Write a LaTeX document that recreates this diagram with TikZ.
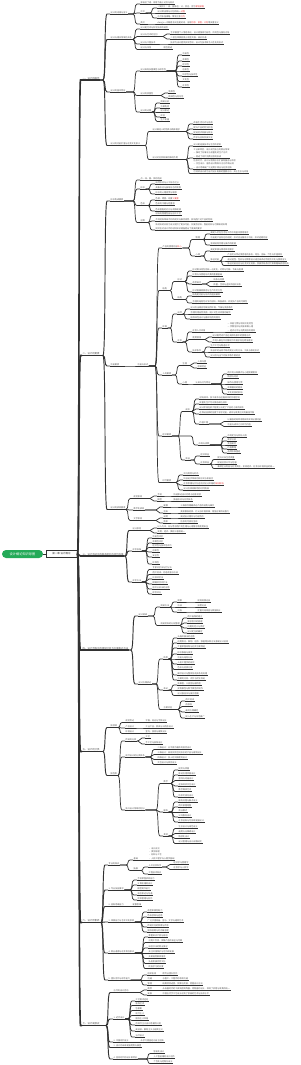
\documentclass[tikz,border=0pt]{standalone}
\usepackage{fontspec}
\setmainfont{Noto Sans CJK SC}
\usepackage{tikz}
\usetikzlibrary{positioning}
\definecolor{mapGreen}{RGB}{36,170,88}
\definecolor{mapLine}{RGB}{50,50,50}
\definecolor{mapText}{RGB}{80,80,80}
\definecolor{mapRed}{RGB}{232,52,52}

\begin{document}
\begin{tikzpicture}[
    x=1pt, y=-1pt,
    rootnode/.style={fill=mapGreen, rounded corners=4pt, text=white,
      font=\fontsize{3.2}{4}\selectfont, minimum width=41pt, minimum height=8pt, inner sep=0.5pt},
    chapter/.style={draw=mapLine, fill=white, line width=0.6pt, text=black!80,
      font=\fontsize{2.5}{3}\selectfont, minimum width=31pt, minimum height=6.5pt, inner sep=0.5pt},
    topic/.style={anchor=south west, inner xsep=0.5pt, inner ysep=0.45pt, text=mapText, align=left,
      font=\fontsize{2.1}{3.3}\selectfont},
    t1/.style={topic, font=\fontsize{2.4}{3}\selectfont, text height=2pt, text depth=0.35pt,
      append after command={(\tikzlastnode.south west) edge[draw=mapLine, line width=1.2pt] (\tikzlastnode.south east)}},
    t2/.style={topic, text height=1.75pt, text depth=0.3pt,
      append after command={(\tikzlastnode.south west) edge[draw=mapLine, line width=0.95pt] (\tikzlastnode.south east)}},
    t3/.style={topic, text height=1.75pt, text depth=0.3pt,
      append after command={(\tikzlastnode.south west) edge[draw=mapLine, line width=0.7pt] (\tikzlastnode.south east)}},
    tm/.style={topic,
      append after command={(\tikzlastnode.south west) edge[draw=mapLine, line width=0.7pt] (\tikzlastnode.south east)}},
    branchpath/.style={to path={-- ([xshift=-7pt]\tikztotarget |- \tikztostart)
      .. controls ([xshift=-4pt]\tikztotarget |- \tikztostart) and ([xshift=-6pt]\tikztotarget)
      .. ([xshift=-3pt]\tikztotarget) -- (\tikztotarget)}},
    trunkpath/.style={to path={-- ([xshift=-4.5pt]\tikztotarget |- \tikztostart)
      .. controls ([xshift=-2.5pt]\tikztotarget |- \tikztostart) and ([xshift=-3.5pt]\tikztotarget)
      .. ([xshift=-1.5pt]\tikztotarget) -- (\tikztotarget)}},
    k1/.style={draw=mapLine, line width=1.6pt, trunkpath},
    k2/.style={draw=mapLine, line width=0.95pt, branchpath},
    k3/.style={draw=mapLine, line width=0.7pt, branchpath}
  ]
  \useasboundingbox (0,0) rectangle (300,1065);

  % centre
  \node[rootnode] (root) at (22.5,554) {设计概论知识导图};
  \node[chapter] (chap) at (61.5,554) {第一章 设计概论};
  \draw[mapLine, line width=0.9pt] (root) -- (chap);

  % main branches
  \node[t1] (la) at (82,80) {一、设计的概念};
  \node[t1] (lb) at (82,355.5) {二、设计的要素};
  \node[t1] (lc) at (82,556) {三、设计活动中的基本原则与评价标准};
  \node[t1] (ld) at (82,650) {四、设计流程中的调研分析与方案表达方法};
  \node[t1] (le) at (82,751.5) {五、设计的分类};
  \node[t1] (lf) at (82,922.5) {六、设计师素养};
  \node[t1] (lg) at (82,1025.5) {七、设计发展史};
  \foreach \kid in {la,lb,lc,ld,le,lf,lg}
    \draw[k1] (chap.east) to (\kid.south west);

  % 一
  \node[t2] (aa) at (110,14) {设计的词源与含义};
  \node[t2] (ab) at (110,39.5) {设计与相关领域的关系};
  \node[t2] (ac) at (110,92) {设计的基本特征};
  \node[t2] (ad) at (110,145.5) {设计的功能价值与社会文化意义};
  \foreach \kid in {aa,ab,ac,ad} \draw[k2] (la.south east) to (\kid.south west);

  \node[t3] (aa1) at (140,4) {源自拉丁语，原意为画上记号与标识};
  \node[t3] (aa2) at (140,13) {中文};
  \node[t3] (aa3) at (140,24) {英文};
  \foreach \kid in {aa1,aa2,aa3} \draw[k3] (aa.south east) to (\kid.south west);
  \foreach \y/\txt [count=\i] in {8/{《说文》：设，施陈也；计，会也，合为\textcolor{mapRed}{筹划谋略}},
      13/{设计即设想与计划的统一\textcolor{mapRed}{过程}},
      18/{古代多指谋略、策划之意\textcolor{mapRed}{行为}}} {
    \node[t3] (aa2-\i) at (157,\y) {\txt};
    \draw[k3] (aa2.south east) to (aa2-\i.south west);
  }
  \node[t3] (aa3-1) at (157,24) {design一词既是名词也是动词，含有\textcolor{mapRed}{构思、意图、计划}等多重含义};
  \draw[k3] (aa3.south east) to (aa3-1.south west);

  \node[t3] (ab1) at (140,29) {设计是艺术与科学技术的结合};
  \node[t3] (ab2) at (140,36.5) {设计与艺术的区别};
  \node[t3] (ab3) at (140,44) {设计与工程技术};
  \node[t3] (ab4) at (140,49.5) {设计与市场};
  \foreach \kid in {ab1,ab2,ab3,ab4} \draw[k3] (ab.south east) to (\kid.south west);
  \node[t3] (ab2-1) at (170,34) {艺术偏重个人情感表达，设计更强调功能性、目的性与服务对象};
  \node[t3] (ab2-2) at (170,39) {二者在审美层面上相互交融、彼此共通};
  \node[t3] (ab3-1) at (170,44) {技术为设计提供实现手段，设计为技术赋予人性化的形式};
  \node[t3] (ab4-1) at (163,49.5) {相互促进};
  \foreach \kid in {ab2-1,ab2-2} \draw[k3] (ab2.south east) to (\kid.south west);
  \draw[k3] (ab3.south east) to (ab3-1.south west);
  \draw[k3] (ab4.south east) to (ab4-1.south west);

  \node[t3] (ac1) at (140,71) {设计具有多重属性与综合性};
  \node[t3] (ac2) at (140,95.5) {设计的双重性};
  \node[t3] (ac3) at (140,112) {设计的过程};
  \foreach \kid in {ac1,ac2,ac3} \draw[k3] (ac.south east) to (\kid.south west);
  \foreach \y/\txt [count=\i] in {55/功能性,61/审美性,66/经济性,71/创新性,76/科学性与技术性,81.5/文化性,87/社会性} {
    \node[t3] (ac1-\i) at (182,\y) {\txt};
    \draw[k3] (ac1.south east) to (ac1-\i.south west);
  }
  \foreach \y/\txt [count=\i] in {93/物质性,98/精神性与符号性} {
    \node[t3] (ac2-\i) at (168,\y) {\txt};
    \draw[k3] (ac2.south east) to (ac2-\i.south west);
  }
  \foreach \y/\txt [count=\i] in {103/调研分析,108/方案构思,112.5/设计表达,117/评估,121.5/生产实施} {
    \node[t3] (ac3-\i) at (160,\y) {\txt};
    \draw[k3] (ac3.south east) to (ac3-\i.south west);
  }

  \node[t3] (ad1) at (152,131.5) {设计满足人的物质与精神需求};
  \node[t3] (ad2) at (152,159.5) {设计对社会发展的推动作用};
  \foreach \kid in {ad1,ad2} \draw[k3] (ad.south east) to (\kid.south west);
  \foreach \y/\txt [count=\i] in {124/改善生活方式与品质,129/提升产品的附加价值,134/促进经济发展与就业,139/传承与创新民族文化} {
    \node[t3] (ad1-\i) at (193,\y) {\txt};
    \draw[k3] (ad1.south east) to (ad1-\i.south west);
  }
  \node[t3] (ad2-1) at (193,146) {设计是连接技术与生活的桥梁};
  \node[tm] (ad2-2) at (193,158) {工业革命后，设计成为独立的职业领域\\— 推动了标准化与批量化的生产方式\\— 促进了现代消费社会的形成};
  \node[tm] (ad2-3) at (193,169) {信息时代，设计从物质形态扩展到服务与体验\\— 交互设计、服务设计等新兴方向不断出现\\— 设计思维被广泛运用于商业与社会创新};
  \node[t3] (ad2-4) at (193,173.5) {可持续设计成为当代设计发展的重要方向，关注生态与环境};
  \foreach \kid in {ad2-1,ad2-2,ad2-3,ad2-4} \draw[k3] (ad2.south east) to (\kid.south west);

  % 二
  \node[t2] (ba) at (110,201) {形态构成要素};
  \node[t2] (bb) at (110,366) {功能要素};
  \node[t2] (bc) at (110,509.5) {设计的表现要素};
  \foreach \kid in {ba,bb,bc} \draw[k2] (lb.south east) to (\kid.south west);

  \node[t3] (ba1) at (140,180) {点、线、面、体的构成};
  \node[t3] (ba2) at (140,189) {形态};
  \node[t3] (ba3) at (140,205.5) {色彩};
  \node[t3] (ba4) at (140,222.5) {材质};
  \foreach \kid in {ba1,ba2,ba3,ba4} \draw[k3] (ba.south east) to (\kid.south west);
  \foreach \y/\txt [count=\i] in {184/自然形态与人工形态之分,189/具象形态与抽象形态的转换,194/形态的心理感受与联想} {
    \node[t3] (ba2-\i) at (155,\y) {\txt};
    \draw[k3] (ba2.south east) to (ba2-\i.south west);
  }
  \foreach \y/\txt [count=\i] in {200/{色相、明度、纯度\textcolor{mapRed}{三要素}},205.5/色彩的冷暖与轻重感,211/色彩搭配的对比与调和规律} {
    \node[t3] (ba3-\i) at (155,\y) {\txt};
    \draw[k3] (ba3.south east) to (ba3-\i.south west);
  }
  \node[t3] (ba4-1) at (155,215.5) {材料的物理性能与加工工艺};
  \node[t3] (ba4-2) at (155,221) {不同材料带来不同的视觉与触觉感受，影响用户对产品的判断};
  \node[tm] (ba4-3) at (155,230) {新材料的开发为设计提供了更多可能，如复合材料、智能材料与可降解材料等\\同时也对设计师的材料知识储备提出了更高的要求};
  \foreach \kid in {ba4-1,ba4-2,ba4-3} \draw[k3] (ba4.south east) to (\kid.south west);

  \node[t3] (bb0) at (137,366) {功能与形式};
  \draw[k3] (bb.south east) to (bb0.south west);
  \node[t3] (b1) at (162,248) {产品的使用功能\textcolor{mapRed}{核心}};
  \node[t3] (b2) at (162,290.5) {结构};
  \node[t3] (b3) at (162,328) {环境};
  \node[t3] (b4) at (162,375) {人的要素};
  \node[t3] (b5) at (162,436) {经济要素};
  \node[t3] (b6) at (162,482.5) {时代要素};
  \foreach \kid in {b1,b2,b3,b4,b5,b6} \draw[k3] (bb0.south east) to (\kid.south west);

  \node[t3] (b1a) at (195,239.5) {物理};
  \node[t3] (b1b) at (195,256) {心理};
  \foreach \kid in {b1a,b1b} \draw[k3] (b1.south east) to (\kid.south west);
  \foreach \y/\txt [count=\i] in {234/满足人们在生活与工作中的基本使用需求,239.5/功能是产品存在的前提，形式应当服务于功能，形式追随功能,245/强调结构合理与操作的便捷} {
    \node[t3] (b1a-\i) at (210,\y) {\txt};
    \draw[k3] (b1a.south east) to (b1a-\i.south west);
  }
  \node[t3] (b1b-1) at (210,251) {满足审美与情感体验需求};
  \node[t3] (b1b-2) at (210,261) {象征功能};
  \foreach \kid in {b1b-1,b1b-2} \draw[k3] (b1b.south east) to (\kid.south west);
  \foreach \y/\txt [count=\i] in {256.5/产品可以传达使用者的身份、地位、品味、个性与价值观念,261/通过造型、色彩与材质等设计语言来表达特定的文化与情感含义,265.5/象征功能往往与社会文化背景、民族传统及时代审美趣味紧密相关} {
    \node[t3] (b1c-\i) at (227,\y) {\txt};
    \draw[k3] (b1b-2.south east) to (b1c-\i.south west);
  }

  \node[t3] (b2a) at (177,281.5) {形式};
  \node[t3] (b2b) at (177,299.5) {结构};
  \foreach \kid in {b2a,b2b} \draw[k3] (b2.south east) to (\kid.south west);
  \node[t3] (b2a-1) at (192,271) {形式美法则包括统一与变化、对称与均衡、节奏与韵律};
  \node[t3] (b2a-2) at (192,276) {比例与尺度是形式美的重要基础};
  \node[t3] (b2a-3) at (192,284) {造型语言};
  \node[t3] (b2a-4) at (192,292) {形式需兼顾美感与生产的可行性};
  \foreach \kid in {b2a-1,b2a-2,b2a-3,b2a-4} \draw[k3] (b2a.south east) to (\kid.south west);
  \node[t3] (b2c-1) at (213,281.5) {线条与轮廓};
  \node[t3] (b2c-2) at (213,286.5) {体量、空间与虚实的组织关系};
  \foreach \kid in {b2c-1,b2c-2} \draw[k3] (b2a-3.south east) to (\kid.south west);
  \node[t3] (b2b-1) at (192,296) {结构是功能与形式的连接载体};
  \node[t3] (b2b-2) at (192,303) {合理的结构可以节约材料、降低成本，并提升产品的可靠性};
  \foreach \kid in {b2b-1,b2b-2} \draw[k3] (b2b.south east) to (\kid.south west);

  \node[t3] (b3a) at (177,314) {自然};
  \node[t3] (b3b) at (177,342) {社会};
  \foreach \kid in {b3a,b3b} \draw[k3] (b3.south east) to (\kid.south west);
  \foreach \y/\txt [count=\i] in {309/设计应当顺应地域自然环境、气候与资源条件,314/合理利用自然资源，减少对生态环境的破坏,319/倡导绿色设计与循环利用的理念} {
    \node[t3] (b3a-\i) at (190,\y) {\txt};
    \draw[k3] (b3a.south east) to (b3a-\i.south west);
  }
  \node[t3] (b3b1) at (192,332) {社会人文环境};
  \node[t3] (b3b2) at (192,339.5) {使用情境};
  \node[t3] (b3b3) at (192,352) {技术条件};
  \foreach \kid in {b3b1,b3b2,b3b3} \draw[k3] (b3b.south east) to (\kid.south west);
  \node[tm] (b3b1-1) at (227,332) {— 风俗习惯与地域文化特色\\— 宗教信仰与民族审美心理\\— 经济水平与消费观念的差异};
  \draw[k3] (b3b1.south east) to (b3b1-1.south west);
  \foreach \y/\txt [count=\i] in {337/设计需考虑产品在具体场景中的使用方式,342/不同人群在不同情境下的需求存在明显差异} {
    \node[t3] (b3b2-\i) at (212,\y) {\txt};
    \draw[k3] (b3b2.south east) to (b3b2-\i.south west);
  }
  \foreach \y/\txt [count=\i] in {347/生产工艺与制造水平,352/新技术的出现不断改变设计的方法、工具与表现形式,357/设计应与当下的技术条件相适应} {
    \node[t3] (b3b3-\i) at (210,\y) {\txt};
    \draw[k3] (b3b3.south east) to (b3b3-\i.south west);
  }

  \node[t3] (b4a) at (182,365.5) {生理};
  \node[t3] (b4b) at (182,384) {心理};
  \foreach \kid in {b4a,b4b} \draw[k3] (b4.south east) to (\kid.south west);
  \foreach \y/\txt [count=\i] in {363/人体尺度,368/感知特征} {
    \node[t3] (b4a-\i) at (197,\y) {\txt};
    \draw[k3] (b4a.south east) to (b4a-\i.south west);
  }
  \node[t3] (b4c) at (195,384) {认知与行为特征};
  \draw[k3] (b4b.south east) to (b4c.south west);
  \foreach \y/\txt [count=\i] in {374/用户的认知模式与心理预期差异,378.5/情感与动机,384/操作与使用习惯,389/审美偏好的差异,394/文化背景的影响} {
    \node[t3] (b4c-\i) at (227,\y) {\txt};
    \draw[k3] (b4c.south east) to (b4c-\i.south west);
  }

  \node[t3] (b5a) at (185,411.5) {成本};
  \node[t3] (b5b) at (198,445) {市场与消费};
  \node[t3] (b5c) at (185,460) {效益};
  \foreach \kid in {b5a,b5b,b5c} \draw[k3] (b5.south east) to (\kid.south west);
  \foreach \y/\txt [count=\i] in {399/材料成本、加工成本与运输成本的合理控制,404/批量化生产可以降低单位成本,409/设计阶段在很大程度上决定了产品约七成的成本,414/在保证品质的前提下寻求功能、成本与审美之间的最佳平衡,424/价值工程} {
    \node[t3] (b5a-\i) at (199,\y) {\txt};
    \draw[k3] (b5a.south east) to (b5a-\i.south west);
  }
  \foreach \y/\txt [count=\i] in {421.5/以最低的寿命周期成本实现必要功能,426.5/功能与成本之比即为价值} {
    \node[t3] (b5d-\i) at (227,\y) {\txt};
    \draw[k3] (b5a-5.south east) to (b5d-\i.south west);
  }
  \foreach \y/\txt [count=\i] in {437/市场定位与目标人群,441/需求分析,445/竞品研究,449/价格策略,453/品牌形象塑造} {
    \node[t3] (b5b-\i) at (227,\y) {\txt};
    \draw[k3] (b5b.south east) to (b5b-\i.south west);
  }
  \node[t3] (b5c1) at (200,456) {经济效益};
  \node[t3] (b5c2) at (200,464) {社会效益};
  \foreach \kid in {b5c1,b5c2} \draw[k3] (b5c.south east) to (\kid.south west);
  \foreach \y/\txt [count=\i] in {459.5/提升公众生活质量,464/促进社会公平与包容,468.5/兼顾企业利益与社会责任，实现经济、社会与环境效益的统一} {
    \node[t3] (b5e-\i) at (217,\y) {\txt};
    \draw[k3] (b5c2.south east) to (b5e-\i.south west);
  }

  \foreach \y/\txt [count=\i] in {475/流行趋势与时尚,480/科技进步带来的新形式与新语言,485/{社会思潮与文化运动对设计风格的\textcolor{mapRed}{深刻影响}},490/设计应体现鲜明的时代精神} {
    \node[t3] (b6-\i) at (183,\y) {\txt};
    \draw[k3] (b6.south east) to (b6-\i.south west);
  }

  \node[t3] (bc1) at (133,498.5) {视觉表现};
  \node[t3] (bc2) at (133,510) {数字化表现};
  \node[t3] (bc3) at (133,520.5) {文字表现};
  \foreach \kid in {bc1,bc2,bc3} \draw[k3] (bc.south east) to (\kid.south west);
  \foreach \y/\key/\txt [count=\i] in {496/手绘/快速表达设计构思与创意灵感,501/模型/推敲形态与比例关系} {
    \node[t3] (bc1-\i) at (157,\y) {\key};
    \node[t3] (bc1x-\i) at (173,\y) {\txt};
    \draw[k3] (bc1.south east) to (bc1-\i.south west);
    \draw[k3] (bc1-\i.south east) to (bc1x-\i.south west);
  }
  \foreach \y/\key/\txt [count=\i] in {507/建模/三维软件精确表达产品的结构与细节,513/渲染/真实模拟材质、灯光与环境效果，增强方案的说服力} {
    \node[t3] (bc2-\i) at (163,\y) {\key};
    \node[t3] (bc2x-\i) at (180,\y) {\txt};
    \draw[k3] (bc2.south east) to (bc2-\i.south west);
    \draw[k3] (bc2-\i.south east) to (bc2x-\i.south west);
  }
  \foreach \y/\key/\txt [count=\i] in {518/说明/阐述设计理念与功能特点,523/图表/信息的可视化呈现} {
    \node[t3] (bc3-\i) at (163,\y) {\key};
    \node[t3] (bc3x-\i) at (180,\y) {\txt};
    \draw[k3] (bc3.south east) to (bc3-\i.south west);
    \draw[k3] (bc3-\i.south east) to (bc3x-\i.south west);
  }

  % 三
  \node[t2] (ca) at (132,530.5) {设计原则};
  \node[t2] (cb) at (132,551) {评价标准};
  \node[t2] (cc) at (132,582) {评价方法};
  \foreach \kid in {ca,cb,cc} \draw[k2] (lc.south east) to (\kid.south west);
  \foreach \y/\txt [count=\i] in {528/以人为本，充分考虑用户的生理与心理需求及使用安全,533/实用、经济、美观三者相统一} {
    \node[t3] (ca-\i) at (157,\y) {\txt};
    \draw[k3] (ca.south east) to (ca-\i.south west);
  }
  \foreach \y/\txt [count=\i] in {538/功能性评价,543/审美性评价,547.5/经济性与技术性评价,552/创新性,557/安全性,564/环保性} {
    \node[t3] (cb-\i) at (152,\y) {\txt};
    \draw[k3] (cb.south east) to (cb-\i.south west);
  }
  \foreach \y/\txt [count=\i] in {569.5/专家评价法与打分法,574.5/用户测试、问卷调查与访谈,579/比较评价法,584/模糊综合评价法,589/层次分析法的应用,594/综合评分} {
    \node[t3] (cc-\i) at (152,\y) {\txt};
    \draw[k3] (cc.south east) to (cc-\i.south west);
  }

  % 四
  \node[t2] (da) at (138,616) {设计调研};
  \node[t2] (db) at (138,684) {设计方案表达};
  \foreach \kid in {da,db} \draw[k2] (ld.south east) to (\kid.south west);
  \node[t3] (da1) at (160,607) {调研方法};
  \node[t3] (da2) at (160,625.5) {调研资料的分析整理};
  \foreach \kid in {da1,da2} \draw[k3] (da.south east) to (\kid.south west);
  \foreach \y/\key/\txt [count=\i] in {602/观察/现场观察记录,607/访谈/深度访谈,612/问卷/定量问卷调查与数据统计} {
    \node[t3] (da1-\i) at (177,\y) {\key};
    \node[t3] (da1x-\i) at (197,\y) {\txt};
    \draw[k3] (da1.south east) to (da1-\i.south west);
    \draw[k3] (da1-\i.south east) to (da1x-\i.south west);
  }
  \foreach \y/\txt [count=\i] in {618/用户画像的建立,623/需求层次的梳理,628/问题的定义与界定,633/设计定位的确定} {
    \node[t3] (da2-\i) at (187,\y) {\txt};
    \draw[k3] (da2.south east) to (da2-\i.south west);
  }
  \node[t3] (db1) at (163,659) {构思};
  \node[t3] (db2) at (163,690) {表达};
  \node[t3] (db3) at (163,709.5) {方案评估};
  \foreach \kid in {db1,db2,db3} \draw[k3] (db.south east) to (\kid.south west);
  \foreach \y/\txt [count=\i] in {638/头脑风暴法的运用,643/运用类比、联想、组合、移植等多种方法激发设计创意,648/大量草图绘制与初步方案筛选,654/形态推敲与演变,659/功能与结构分析,664/人机工程学的研究,669.5/色彩与材质方案,675/细节设计与整体协调关系的处理,680/方案的比较、评价与优化改进} {
    \node[t3] (db1-\i) at (177,\y) {\txt};
    \draw[k3] (db1.south east) to (db1-\i.south west);
  }
  \foreach \y/\txt [count=\i] in {685/效果图、三视图与爆炸图,690/实物模型与数字模型的制作,695.5/设计报告书与展示版面} {
    \node[t3] (db2-\i) at (177,\y) {\txt};
    \draw[k3] (db2.south east) to (db2-\i.south west);
  }
  \foreach \y/\txt [count=\i] in {701/用户测试,706.5/再修改,712/最终方案确定,718/投入生产与市场推广} {
    \node[t3] (db3-\i) at (185,\y) {\txt};
    \draw[k3] (db3.south east) to (db3-\i.south west);
  }

  % 五
  \node[t2] (ea) at (110,727.5) {按领域};
  \node[t2] (eb) at (110,775.5) {按性质};
  \foreach \kid in {ea,eb} \draw[k2] (le.south east) to (\kid.south west);
  \foreach \y/\key/\txt [count=\i] in {722.5/视觉传达/平面、标志与字体设计,728/产品设计/工业产品、家具与日用品设计,733.5/环境设计/室内、景观与建筑设计} {
    \node[t3] (ea-\i) at (125,\y) {\key};
    \node[t3] (eax-\i) at (145,\y) {\txt};
    \draw[k3] (ea.south east) to (ea-\i.south west);
    \draw[k3] (ea-\i.south east) to (eax-\i.south west);
  }
  \node[t3] (eb1) at (125,741) {传统的分类};
  \node[t3] (eb2) at (125,757) {现代设计的分类体系};
  \node[t3] (eb3) at (125,810) {新兴设计领域的划分};
  \foreach \kid in {eb1,eb2,eb3} \draw[k3] (eb.south east) to (\kid.south west);
  \foreach \y/\txt [count=\i] in {738/工艺,744/手工艺与装饰设计} {
    \node[t3] (eb1-\i) at (145,\y) {\txt};
    \draw[k3] (eb1.south east) to (eb1-\i.south west);
  }
  \foreach \y/\txt [count=\i] in {749.5/二维设计：以平面为载体的视觉设计,754.5/三维设计：具有实体空间形态的产品与建筑设计,759.5/四维设计：加入时间维度的设计,764.5/交互设计与体验设计} {
    \node[t3] (eb2-\i) at (157,\y) {\txt};
    \draw[k3] (eb2.south east) to (eb2-\i.south west);
  }
  \node[t3] (eb31) at (163,783.5) {数字};
  \node[t3] (eb32) at (163,812) {服务};
  \node[t3] (eb33) at (163,836) {其他};
  \foreach \kid in {eb31,eb32,eb33} \draw[k3] (eb3.south east) to (\kid.south west);
  \foreach \y/\txt [count=\i] in {770/网页与界面,775/移动应用界面设计,780.5/游戏与动画设计,786/虚拟现实交互设计,791.5/数字媒体艺术,797/信息可视化设计} {
    \node[t3] (eb31-\i) at (178,\y) {\txt};
    \draw[k3] (eb31.south east) to (eb31-\i.south west);
  }
  \foreach \y/\txt [count=\i] in {802/服务流程与触点设计,807/用户旅程地图,812/商业模式,817/公共服务设计,822/社会创新与可持续发展设计} {
    \node[t3] (eb32-\i) at (178,\y) {\txt};
    \draw[k3] (eb32.south east) to (eb32-\i.south west);
  }
  \foreach \y/\txt [count=\i] in {828.5/生态设计与绿色设计,833.5/通用与无障碍设计,838.5/情感化设计,843.5/设计管理与设计战略研究} {
    \node[t3] (eb33-\i) at (178,\y) {\txt};
    \draw[k3] (eb33.south east) to (eb33-\i.south west);
  }

  % 六
  \node[t2] (fa) at (108,865) {专业的知识};
  \node[t2] (fb) at (108,890) {1. 专业技能要求};
  \node[t2] (fc) at (108,906.5) {2. 创新思维能力};
  \node[t2] (fd) at (108,922) {3. 审美能力与艺术文化修养};
  \node[t2] (fe) at (108,953) {4. 职业道德与社会责任意识};
  \node[t2] (ff) at (108,980) {5. 团队合作与综合能力};
  \foreach \kid in {fa,fb,fc,fd,fe,ff} \draw[k2] (lf.south east) to (\kid.south west);
  \node[t3] (fa1) at (133,860) {基础};
  \node[t3] (fa2) at (133,870.5) {拓展};
  \foreach \kid in {fa1,fa2} \draw[k3] (fa.south east) to (\kid.south west);
  \node[tm] (fa1-1) at (148,860) {• 设计史论\\• 美学原理\\• 材料与工艺\\• 人机工程学与心理学基础};
  \draw[k3] (fa1.south east) to (fa1-1.south west);
  \node[t3] (fa21) at (148,867) {人文社会科学};
  \node[t3] (fa22) at (148,874) {工程技术知识};
  \foreach \kid in {fa21,fa22} \draw[k3] (fa2.south east) to (\kid.south west);
  \foreach \y/\txt [count=\i] in {864.5/经济学与管理学,869.5/社会学与人类学} {
    \node[t3] (fa21-\i) at (173,\y) {\txt};
    \draw[k3] (fa21.south east) to (fa21-\i.south west);
  }
  \foreach \y/\txt [count=\i] in {880/手绘草图表现能力,885/计算机辅助设计,890/模型制作能力,895/语言表达与沟通,900/项目管理与协作} {
    \node[t3] (fb-\i) at (137,\y) {\txt};
    \draw[k3] (fb.south east) to (fb-\i.south west);
  }
  \node[t3] (fc-1) at (132,906.5) {发散思维};
  \draw[k3] (fc.south east) to (fc-1.south west);
  \foreach \y/\txt [count=\i] in {912/造型审美判断力,917/色彩感知与运用,922/广泛涉猎绘画、音乐、文学与建筑艺术,927/传统文化的积累与传承,932/国际视野与时尚敏感度} {
    \node[t3] (fd-\i) at (147,\y) {\txt};
    \draw[k3] (fd.south east) to (fd-\i.south west);
  }
  \foreach \y/\txt [count=\i] in {937/尊重知识产权与原创,942.5/对用户负责，保障产品的安全与可靠,948/诚信守法的职业操守,953/关注环境保护与可持续发展,958.5/关爱弱势群体需求,963.5/弘扬民族优秀文化,968.5/终身学习的态度} {
    \node[t3] (fe-\i) at (148,\y) {\txt};
    \draw[k3] (fe.south east) to (fe-\i.south west);
  }
  \foreach \y/\key/\txt [count=\i] in {975/组织协调/跨专业团队合作,980/沟通/与客户、工程师的有效沟通,985/管理/统筹项目进度、预算与资源，把握设计方向} {
    \node[t3] (ff-\i) at (147,\y) {\key};
    \node[t3] (ffx-\i) at (162,\y) {\txt};
    \draw[k3] (ff.south east) to (ff-\i.south west);
    \draw[k3] (ff-\i.south east) to (ffx-\i.south west);
  }

  % 七
  \node[t2] (ga) at (113,992.5) {古代的设计活动};
  \node[t2] (gb) at (113,1019) {1. 近代设计};
  \node[t2] (gc) at (113,1042) {2. 中国现代设计};
  \node[t2] (gd) at (113,1047.5) {3. 设计的未来发展趋势与展望};
  \node[t2] (ge) at (113,1059) {4. 信息时代的设计新特征};
  \foreach \kid in {ga,gb,gc,gd,ge} \draw[k2] (lg.south east) to (\kid.south west);
  \foreach \y/\key/\txt [count=\i] in {990/萌芽/从石器时代的工具制造到陶器、青铜器的设计，体现了实用与审美的统一,995/发展/中国古代手工艺设计达到了很高的艺术与技术水平} {
    \node[t3] (ga-\i) at (147,\y) {\key};
    \node[t3] (gax-\i) at (162,\y) {\txt};
    \draw[k3] (ga.south east) to (ga-\i.south west);
    \draw[k3] (ga-\i.south east) to (gax-\i.south west);
  }
  \foreach \y/\txt [count=\i] in {1001/工艺美术运动,1005.5/装饰艺术,1010.5/包豪斯,1015.5/现代主义,1020.5/国际主义风格,1025/后现代主义设计思潮的兴起,1031/高技派、解构主义与极简主义,1037/当代设计} {
    \node[t3] (gb-\i) at (135,\y) {\txt};
    \draw[k3] (gb.south east) to (gb-\i.south west);
  }
  \node[t3] (gc-1) at (140,1042) {从学习借鉴走向自主创新};
  \draw[k3] (gc.south east) to (gc-1.south west);
  \foreach \y/\txt [count=\i] in {1053.5/智能化设计,1058.5/人工智能辅助设计创作,1063.5/个性化与定制化设计} {
    \node[t3] (ge-\i) at (153,\y) {\txt};
    \draw[k3] (ge.south east) to (ge-\i.south west);
  }
\end{tikzpicture}
\end{document}
